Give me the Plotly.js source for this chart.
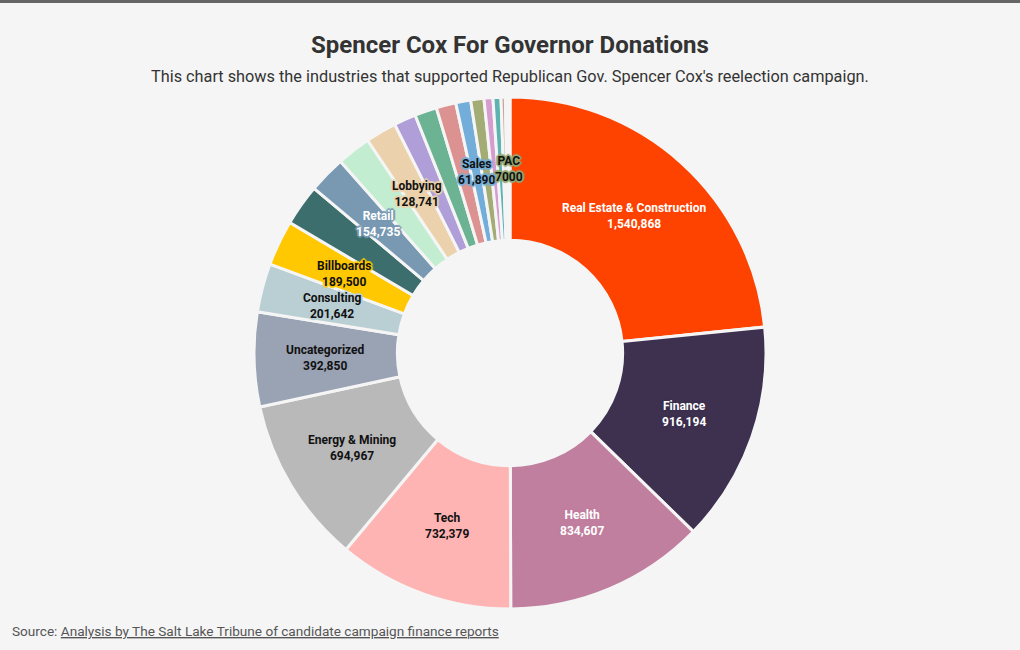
<!DOCTYPE html>
<html>
<head>
<meta charset="utf-8">
<script src="https://cdn.plot.ly/plotly-3.0.1.min.js"></script>
<style>
  html, body { margin: 0; padding: 0; background: #f5f5f5; }
  body { border-top: 3px solid #666666; }
  #chart { width: 1020px; height: 647px; }
</style>
</head>
<body>
<div id="chart"></div>
<script>
// industries, clockwise from 12 o'clock
var categories = ['Real Estate & Construction', 'Finance', 'Health', 'Tech', 'Energy & Mining',
	'Uncategorized', 'Consulting', 'Billboards', 'Other industry 1', 'Retail', 'Other industry 2',
	'Lobbying', 'Other industry 3', 'Other industry 4', 'Other industry 5', 'Sales',
	'Other industry 6', 'Other industry 7', 'Other industry 8', 'Other industry 9',
	'Other industry 10', 'PAC'];
var donations = [1540868, 916194, 834607, 732379, 694967,
	392850, 201642, 189500, 172000, 154735, 141000,
	128741, 92000, 92000, 82000, 61890,
	55000, 37000, 33000, 18000,
	12000, 7000];
// which slices carry a label
var labeled = ['Real Estate & Construction', 'Finance', 'Health', 'Tech', 'Energy & Mining',
	'Uncategorized', 'Consulting', 'Billboards', 'Retail', 'Lobbying', 'Sales', 'PAC'];

var slice_colors = ['#fe4301', '#3e3150', '#c17f9f', '#ffb4b4', '#b9b9b9',
	'#9aa3b4', '#b9cfd4', '#ffc800', '#3b6e6c', '#7999b3', '#c3edd1',
	'#ebd2ac', '#b09ed8', '#6cb394', '#dc9291', '#73add9',
	'#a3ac74', '#d59cd0', '#5cb3b0', '#cba491', '#d9d9e2', '#93a873'];
var white_text = ['Real Estate & Construction', 'Finance', 'Health', 'Retail'];

var bg = '#f5f5f5';
var W = 1020, H = 647;
var m = {l: 0, r: 0, t: 94, b: 41};
var hole = 0.44;

function fmt(v) {
	return v < 10000 ? String(v) : v.toLocaleString('en-US');
}

function halo(c) {
	var s = [];
	[[-1, -1], [1, -1], [-1, 1], [1, 1], [0, -2], [0, 2], [-2, 0], [2, 0]].forEach(function(d) {
		s.push(d[0] + 'px ' + d[1] + 'px 1px ' + c);
	});
	return s.join(', ');
}

var trace = {
	type: 'pie',
	labels: categories,
	values: donations,
	sort: false,
	direction: 'clockwise',
	rotation: 0,
	hole: hole,
	textinfo: 'none',
	hoverinfo: 'skip',
	marker: {
		colors: slice_colors,
		line: {color: bg, width: 3}
	}
};

// labels at the middle of the ring
var total = donations.reduce(function(a, b) { return a + b; }, 0);
var pw = W - m.l - m.r, ph = H - m.t - m.b;
var R = Math.min(pw, ph) / 2;
var rMid = R * (1 + hole) / 2;
var annotations = [];
var cum = 0;
for (var i = 0; i < categories.length; i++) {
	var mid = (cum + donations[i] / 2) / total * 2 * Math.PI;
	cum += donations[i];
	if (labeled.indexOf(categories[i]) < 0) continue;
	var isWhite = white_text.indexOf(categories[i]) >= 0;
	annotations.push({
		xref: 'paper', yref: 'paper',
		x: 0.5 + rMid * Math.sin(mid) / pw,
		y: 0.5 + rMid * Math.cos(mid) / ph,
		xanchor: 'center', yanchor: 'middle',
		showarrow: false,
		text: '<b>' + categories[i] + '</b><br><b>' + fmt(donations[i]) + '</b>',
		font: {
			family: 'Roboto, sans-serif', size: 12,
			color: isWhite ? '#ffffff' : '#111111',
			shadow: halo(slice_colors[i])
		}
	});
}

annotations.push({
	xref: 'paper', yref: 'paper',
	x: 0.5, y: 1, yshift: 52,
	xanchor: 'center', yanchor: 'middle',
	showarrow: false,
	text: '<b>Spencer Cox For Governor Donations</b>',
	font: {family: 'Roboto, sans-serif', size: 24, color: '#333333'}
});
annotations.push({
	xref: 'paper', yref: 'paper',
	x: 0.5, y: 1, yshift: 21,
	xanchor: 'center', yanchor: 'middle',
	showarrow: false,
	text: "This chart shows the industries that supported Republican Gov. Spencer Cox's reelection campaign.",
	font: {family: 'Roboto, sans-serif', size: 16.3, color: '#333333'}
});
annotations.push({
	xref: 'paper', yref: 'paper',
	x: 0, y: 0, xshift: 10, yshift: -22,
	xanchor: 'left', yanchor: 'middle',
	showarrow: false,
	text: 'Source: <span style="text-decoration:underline">Analysis by The Salt Lake Tribune of candidate campaign finance reports</span>',
	font: {family: 'Roboto, sans-serif', size: 13.6, color: '#555555'}
});

var layout = {
	width: W,
	height: H,
	margin: m,
	paper_bgcolor: bg,
	plot_bgcolor: bg,
	showlegend: false,
	annotations: annotations
};

Plotly.newPlot('chart', [trace], layout, {displayModeBar: false, staticPlot: true});
</script>
</body>
</html>
